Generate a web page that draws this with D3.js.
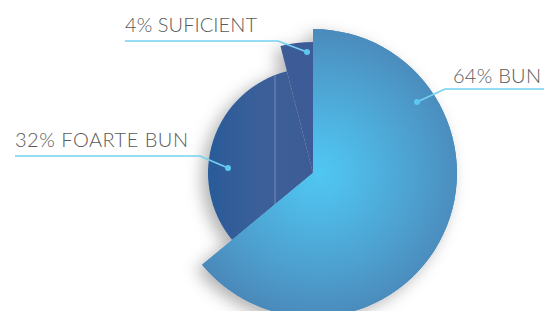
<!DOCTYPE html>
<html>
<head>
<meta charset="utf-8">
<script src="https://cdn.jsdelivr.net/npm/d3@7"></script>
<style>
  body { margin: 0; background: #fff; }
  svg { display: block; }
</style>
</head>
<body>
<div id="vis"></div>
<script>
// Declare constants
const FRAME_WIDTH = 544;
const FRAME_HEIGHT = 311;
const CENTER = {x: 313, y: 173};

// data
const categories = ["BUN", "FOARTE BUN", "SUFICIENT"];
const percents = [64, 32, 4];
const radii = [144, 105, 131];

// label placement (text, leader line, dot)
const labels = [
  {tx: 453, ty: 83, line: [[544, 89], [445, 89]], dot: [417, 102], len: 88},
  {tx: 15, ty: 147, line: [[15, 156], [200, 156]], dot: [228, 168], len: 173},
  {tx: 125, ty: 32, line: [[125, 41], [278, 41]], dot: [307, 52], len: 132}
];

const FRAME = d3.select("#vis")
  .append("svg")
    .attr("width", FRAME_WIDTH)
    .attr("height", FRAME_HEIGHT);

const defs = FRAME.append("defs");

// soft shadow
const shadow = defs.append("filter")
  .attr("id", "shadow")
  .attr("x", "-30%").attr("y", "-30%")
  .attr("width", "160%").attr("height", "160%");
shadow.append("feDropShadow")
  .attr("dx", -6).attr("dy", 5)
  .attr("stdDeviation", 8)
  .attr("flood-color", "#000")
  .attr("flood-opacity", 0.3);

// gradients (coordinates relative to pie centre)
const gBig = defs.append("radialGradient")
  .attr("id", "gBig")
  .attr("gradientUnits", "userSpaceOnUse")
  .attr("cx", 6).attr("cy", 0)
  .attr("r", 150);
gBig.append("stop").attr("offset", "0%").attr("stop-color", "#50c7f2");
gBig.append("stop").attr("offset", "22%").attr("stop-color", "#4fbbe8");
gBig.append("stop").attr("offset", "65%").attr("stop-color", "#4da0cf");
gBig.append("stop").attr("offset", "100%").attr("stop-color", "#4a88b9");

const gDark = defs.append("linearGradient")
  .attr("id", "gDark")
  .attr("gradientUnits", "userSpaceOnUse")
  .attr("x1", -108).attr("y1", 0)
  .attr("x2", 0).attr("y2", 0);
gDark.append("stop").attr("offset", "0%").attr("stop-color", "#285b99");
gDark.append("stop").attr("offset", "55%").attr("stop-color", "#3d5f99");
gDark.append("stop").attr("offset", "100%").attr("stop-color", "#3e5c95");

const fills = ["url(#gBig)", "url(#gDark)", "#3e5b97"];

const pie = d3.pie().sort(null).value((d) => d);
const arcs = pie(percents);

const arc = d3.arc().innerRadius(0).outerRadius((d, i) => radii[i]);

const G = FRAME.append("g")
  .attr("transform", "translate(" + CENTER.x + "," + CENTER.y + ")");

// shadowed silhouette of all slices
const slices = G.append("g").attr("filter", "url(#shadow)");
[2, 1, 0].forEach((i) => {
  slices.append("path")
    .attr("d", arc(arcs[i], i))
    .attr("fill", fills[i]);
});

// faint highlight line across the dark slice
defs.append("clipPath").attr("id", "clipDark")
  .append("path").attr("d", arc(arcs[1], 1));
G.append("line")
  .attr("clip-path", "url(#clipDark)")
  .attr("x1", 275 - CENTER.x).attr("x2", 275 - CENTER.x)
  .attr("y1", -120).attr("y2", 120)
  .attr("stroke", "#a9bbdb")
  .attr("stroke-opacity", 0.7)
  .attr("stroke-width", 0.7);

G.append("path")
  .attr("d", arc(arcs[0], 0))
  .attr("fill", fills[0]);

// labels with leader lines
labels.forEach((l, i) => {
  FRAME.append("polyline")
    .attr("points", l.line.concat([l.dot]).map((p) => p.join(",")).join(" "))
    .attr("fill", "none")
    .attr("stroke", "#74d1f2")
    .attr("stroke-width", 1.6);
  FRAME.append("circle")
    .attr("cx", l.dot[0]).attr("cy", l.dot[1])
    .attr("r", 3)
    .attr("fill", "#5cc8f0");
  FRAME.append("text")
    .attr("x", l.tx).attr("y", l.ty)
    .attr("font-family", "Lato, 'DejaVu Sans', sans-serif")
    .attr("font-weight", 300)
    .attr("font-size", "20px")
    .attr("fill", "#5a5a5a")
    .attr("textLength", l.len)
    .attr("lengthAdjust", "spacing")
    .text(percents[i] + "% " + categories[i]);
});
</script>
</body>
</html>
